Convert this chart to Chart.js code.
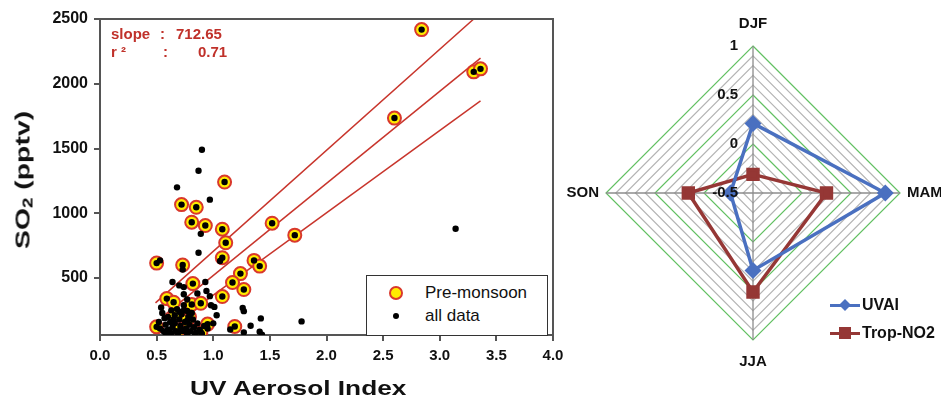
<!DOCTYPE html>
<html>
<head>
<meta charset="utf-8">
<script src="https://cdn.jsdelivr.net/npm/chart.js@4.4.1/dist/chart.umd.min.js"></script>
<style>
  html, body { margin: 0; padding: 0; background: #fff; }
  #wrap { position: relative; width: 941px; height: 404px; overflow: hidden; font-family: "Liberation Sans", Arial, sans-serif; }
  #scatterCanvas { position: absolute; left: 0; top: 0; }
  #radarCanvas { position: absolute; left: 555px; top: 0; }
  .legend { position: absolute; color: #111; }
  #scatterLegend { left: 366px; top: 275px; width: 180px; height: 59px; border: 1px solid #333; background: #fff; font-size: 17px; }
  #scatterLegend .row { position: absolute; left: 0; height: 22px; line-height: 22px; }
  #scatterLegend .mark { position: absolute; left: 20px; }
  #scatterLegend .txt { position: absolute; left: 58px; white-space: nowrap; }
  #radarLegend { left: 830px; top: 292px; font-size: 16px; font-weight: bold; }
  #radarLegend .row { position: relative; height: 28px; line-height: 26px; white-space: nowrap; }
  #radarLegend .line { position: absolute; left: 0; top: 12px; width: 30px; height: 3px; }
  #radarLegend .txt { position: absolute; left: 32px; }
  .axisTitle { position: absolute; font-weight: bold; color: #111; white-space: nowrap; }
  #xTitle { left: 190px; top: 376px; font-size: 21px; transform: scaleX(1.25); transform-origin: left center; }
  #yTitle { left: 23px; top: 180px; font-size: 21px; transform: translate(-50%, -50%) rotate(-90deg) scaleX(1.35); }
  #yTitle sub { font-size: 14px; vertical-align: -3px; }
</style>
</head>
<body>
<div id="wrap">
  <canvas id="scatterCanvas" width="580" height="404"></canvas>
  <canvas id="radarCanvas" width="386" height="404"></canvas>
  <div id="xTitle" class="axisTitle">UV Aerosol Index</div>
  <div id="yTitle" class="axisTitle">SO<sub>2</sub> (pptv)</div>
  <div id="scatterLegend" class="legend">
    <div class="row" style="top:6px">
      <svg class="mark" width="18" height="22"><circle cx="9" cy="11" r="6" fill="#ffec00" stroke="#d9382c" stroke-width="2"/></svg>
      <span class="txt">Pre-monsoon</span>
    </div>
    <div class="row" style="top:29px">
      <svg class="mark" width="18" height="22"><circle cx="9" cy="11" r="3" fill="#000"/></svg>
      <span class="txt">all data</span>
    </div>
  </div>
  <div id="radarLegend" class="legend">
    <div class="row">
      <div class="line" style="background:#4a70c0"></div>
      <svg style="position:absolute;left:8px;top:6px" width="14" height="14"><polygon points="7,1 13,7 7,13 1,7" fill="#4a70c0"/></svg>
      <span class="txt">UVAI</span>
    </div>
    <div class="row">
      <div class="line" style="background:#953735"></div>
      <svg style="position:absolute;left:8px;top:6px" width="14" height="14"><rect x="1" y="1" width="12" height="12" fill="#953735"/></svg>
      <span class="txt">Trop-NO2</span>
    </div>
  </div>
</div>
<script>
// scatter: pre-monsoon points (UV aerosol index, SO2 pptv)
const preX = [1.10, 0.72, 0.85, 0.81, 0.93, 1.08, 1.11, 1.52, 1.72, 0.50, 0.73, 1.08, 1.36, 1.41, 1.24, 1.17, 1.27, 0.82, 0.59, 0.65, 0.81, 0.89, 1.08, 0.66, 0.79, 0.50, 0.95, 1.19, 0.89, 0.71, 0.77, 2.84, 3.30, 3.36, 2.60];
const preY = [1241, 1067, 1046, 931, 905, 877, 772, 923, 831, 615, 600, 657, 636, 592, 534, 465, 411, 457, 341, 313, 295, 305, 357, 213, 200, 123, 144, 126, 82, 103, 170, 2418, 2092, 2115, 1735];

// scatter: the remaining points of "all data"
const otherX = [0.90, 0.87, 0.68, 0.97, 0.89, 0.87, 0.53, 0.73, 1.06, 0.64, 0.70, 0.74, 0.93, 0.74, 0.86, 0.94, 0.97, 0.77, 0.74, 0.98, 1.01, 1.26, 1.27, 0.54, 0.63, 0.70, 0.77, 1.03, 1.42, 1.78, 1.33, 1.15, 1.00, 1.27, 1.41, 1.43, 3.14,
  0.55, 0.57, 0.52, 0.53, 0.56, 0.58, 0.60, 0.62, 0.64, 0.66, 0.67, 0.69, 0.70, 0.71, 0.72, 0.73, 0.75, 0.76, 0.77, 0.78, 0.79, 0.80, 0.82, 0.83, 0.85, 0.86, 0.88, 0.90, 0.92, 0.60, 0.65, 0.68, 0.74, 0.58, 0.63, 0.81, 0.84, 0.95, 0.62];
const otherY = [1490, 1328, 1200, 1105, 841, 695, 636, 565, 631, 469, 443, 430, 469, 375, 380, 400, 360, 334, 290, 290, 277, 269, 244, 272, 250, 240, 245, 213, 188, 165, 131, 103, 150, 80, 85, 62, 880,
  230, 190, 160, 110, 90, 70, 100, 80, 120, 150, 90, 70, 180, 130, 220, 90, 160, 110, 70, 200, 140, 90, 180, 120, 80, 150, 100, 70, 130, 200, 180, 260, 250, 140, 65, 230, 65, 110, 160];

// fit line and its two bounds, end points
const fitX = [0.57, 3.36];
const fitY = [213, 2198];
const upperX = [0.49, 3.30];
const upperY = [308, 2500];
const lowerX = [0.66, 3.36];
const lowerY = [151, 1867];

const xTicks = [0, 0.5, 1, 1.5, 2, 2.5, 3, 3.5, 4];
const yTicks = [500, 1000, 1500, 2000, 2500];

// radar
const seasons = ["DJF", "MAM", "JJA", "SON"];
const uvai = [0.21, 0.85, 0.29, -0.27];
const tropNo2 = [-0.31, 0.25, 0.51, 0.16];
const radarLabelTicks = [1, 0.5, 0, -0.5];

const toPoints = (xs, ys) => xs.map((x, i) => ({ x, y: ys[i] }));
const allX = preX.concat(otherX);
const allY = preY.concat(otherY);

const tickFont = { family: "Liberation Sans", size: 16, weight: "bold" };
const red = "#c8352c";

const framePlugin = {
  id: "frame",
  afterDatasetsDraw(chart) {
    const { ctx, chartArea } = chart;
    ctx.save();
    ctx.strokeStyle = "#555";
    ctx.lineWidth = 2;
    ctx.beginPath();
    ctx.moveTo(chartArea.left, chartArea.top);
    ctx.lineTo(chartArea.right, chartArea.top);
    ctx.lineTo(chartArea.right, chartArea.bottom);
    ctx.stroke();
    ctx.fillStyle = "#c0312a";
    ctx.font = "bold 15px 'Liberation Sans'";
    ctx.textBaseline = "middle";
    const l = chartArea.left;
    ctx.fillText("slope", l + 11, chartArea.top + 16);
    ctx.fillText(":", l + 60, chartArea.top + 16);
    ctx.fillText("712.65", l + 76, chartArea.top + 16);
    ctx.fillText("r ²", l + 11, chartArea.top + 34);
    ctx.fillText(":", l + 63, chartArea.top + 34);
    ctx.fillText("0.71", l + 98, chartArea.top + 34);
    ctx.restore();
  },
};

new Chart(document.querySelector("#scatterCanvas"), {
  type: "scatter",
  data: {
    datasets: [
      {
        label: "all data",
        data: toPoints(allX, allY),
        backgroundColor: "#000",
        borderColor: "#000",
        pointRadius: 3.2,
        borderWidth: 0,
      },
      {
        label: "Pre-monsoon",
        data: toPoints(preX, preY),
        backgroundColor: "#ffec00",
        borderColor: "#d9382c",
        pointRadius: 6.5,
        borderWidth: 2,
      },
      { type: "line", label: "upper", data: toPoints(upperX, upperY), borderColor: red, borderWidth: 1.5, pointRadius: 0, fill: false },
      { type: "line", label: "fit", data: toPoints(fitX, fitY), borderColor: red, borderWidth: 1.5, pointRadius: 0, fill: false },
      { type: "line", label: "lower", data: toPoints(lowerX, lowerY), borderColor: red, borderWidth: 1.5, pointRadius: 0, fill: false },
    ],
  },
  options: {
    responsive: false,
    animation: false,
    layout: { padding: { top: 19, right: 27, left: 0, bottom: 0 } },
    plugins: { legend: { display: false }, tooltip: { enabled: false } },
    scales: {
      x: {
        type: "linear",
        min: 0,
        max: 4,
        afterBuildTicks: (axis) => { axis.ticks = xTicks.map((v) => ({ value: v })); },
        afterFit: (axis) => { axis.height = 69; axis.paddingLeft = 0; axis.paddingRight = 0; },
        ticks: { callback: (v) => v.toFixed(1), font: { ...tickFont, size: 15 }, color: "#111", padding: 6, maxRotation: 0 },
        grid: { drawOnChartArea: false, tickLength: 6, color: "#555", lineWidth: 2 },
        border: { color: "#555", width: 2 },
      },
      y: {
        min: 60,
        max: 2500,
        afterBuildTicks: (axis) => { axis.ticks = yTicks.map((v) => ({ value: v })); },
        afterFit: (axis) => { axis.width = 100; axis.paddingTop = 0; axis.paddingBottom = 0; },
        ticks: { callback: (v) => String(v), font: tickFont, color: "#111", padding: 6 },
        grid: { drawOnChartArea: false, tickLength: 6, color: "#555", lineWidth: 2 },
        border: { color: "#555", width: 2 },
      },
    },
  },
  plugins: [framePlugin],
});

const radarText = {
  id: "radarText",
  afterDraw(chart) {
    const { ctx } = chart;
    const r = chart.scales.r;
    ctx.save();
    ctx.fillStyle = "#111";
    ctx.font = "bold 15px 'Liberation Sans'";
    ctx.textBaseline = "middle";
    ctx.textAlign = "right";
    radarLabelTicks.forEach((v) => {
      const d = r.getDistanceFromCenterForValue(v);
      ctx.fillText(String(v), r.xCenter - 15, r.yCenter - d);
    });
    const far = r.drawingArea;
    seasons.forEach((name, i) => {
      const p = r.getPointPosition(i, far + (i % 2 === 0 ? 22 : 7));
      ctx.textAlign = i === 1 ? "left" : i === 3 ? "right" : "center";
      ctx.fillText(name, p.x, p.y);
    });
    ctx.restore();
  },
};

new Chart(document.querySelector("#radarCanvas"), {
  type: "radar",
  data: {
    labels: seasons,
    datasets: [
      { label: "UVAI", data: uvai, borderColor: "#4a70c0", backgroundColor: "#4a70c0", borderWidth: 3.5, pointStyle: "rectRot", pointRadius: 6, fill: false },
      { label: "Trop-NO2", data: tropNo2, borderColor: "#953735", backgroundColor: "#953735", borderWidth: 3.5, pointStyle: "rect", pointRadius: 7, fill: false },
    ],
  },
  options: {
    responsive: false,
    animation: false,
    layout: { padding: { left: 51, top: 46, right: 41, bottom: 64 } },
    plugins: { legend: { display: false }, tooltip: { enabled: false } },
    scales: {
      r: {
        min: -0.5,
        max: 1,
        ticks: { stepSize: 0.1, display: false },
        pointLabels: { display: false },
        grid: {
          color: (c) => {
            const v = c.tick ? c.tick.value * 2 : 0.5;
            return Math.abs(v - Math.round(v)) < 1e-6 ? "#62c062" : "#b4b4b4";
          },
          lineWidth: 1.2,
        },
        angleLines: { color: "#8c8c8c", lineWidth: 1.3 },
      },
    },
  },
  plugins: [radarText],
});
</script>
</body>
</html>
